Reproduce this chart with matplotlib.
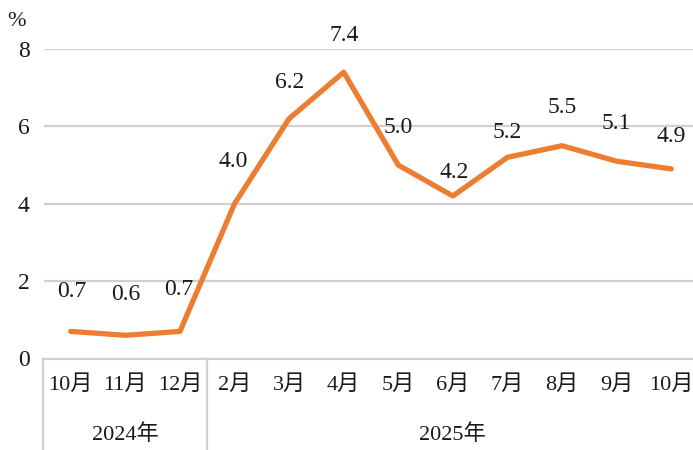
import matplotlib
matplotlib.use("Agg")
import matplotlib.pyplot as plt
import matplotlib.transforms as mtransforms

plt.rcParams['font.family'] = ['Liberation Serif', 'Noto Sans CJK SC']

months = ['10月', '11月', '12月', '2月', '3月', '4月', '5月', '6月', '7月', '8月', '9月', '10月']
values = [0.7, 0.6, 0.7, 4.0, 6.2, 7.4, 5.0, 4.2, 5.2, 5.5, 5.1, 4.9]
years = ['2024年', '2025年']
year_spans = [(0, 2), (3, 11)]
yticks = [0, 2, 4, 6, 8]

# label offsets above each point, in pixels
label_dy = [40, 41, 42, 42, 36, 37, 38, 24, 25, 38, 38, 32]
label_dx = [1, 0, -1, -1, 0, 0, 0, 1, 0, 0, 0, 0]

orange = '#ED7D31'
grey = '#D0D0D0'
txt = '#1a1a1a'
fs = 17

fig = plt.figure(figsize=(6.93, 4.5), dpi=100)
ax = fig.add_axes([43.5/693, 91.5/450, 655/693, 309.5/450])

x = list(range(len(values)))
ax.plot(x, values, color=orange, lw=3.8, solid_capstyle='round', solid_joinstyle='round', zorder=3)

ax.set_xlim(-0.5, len(values) - 0.5)
ax.set_ylim(0, 8)
ax.set_yticks(yticks)
ax.set_yticklabels([str(v) for v in yticks], fontsize=fs, color=txt)
ax.set_xticks([])
ax.tick_params(axis='y', length=0, pad=10)
for s in ['top', 'right', 'left']:
    ax.spines[s].set_visible(False)
ax.spines['bottom'].set_color(grey)
ax.spines['bottom'].set_linewidth(1.6)
ax.grid(axis='y', color=grey, lw=1.6)
ax.set_axisbelow(True)

for i, v in enumerate(values):
    ax.annotate(f'{v:.1f}', (i, v), xytext=(label_dx[i]*0.72, label_dy[i]*0.72),
                textcoords='offset points', ha='center', va='center',
                fontsize=fs, color=txt, annotation_clip=False)

trans = mtransforms.blended_transform_factory(ax.transData, ax.transAxes)
for i, m in enumerate(months):
    ax.annotate(m, (i, 0), xycoords=trans, xytext=(0, -26.5*0.72),
                textcoords='offset points', ha='center', va='center',
                fontsize=fs - 1, color=txt, annotation_clip=False)

for (a, b), yr in zip(year_spans, years):
    ax.annotate(yr, ((a + b) / 2, 0), xycoords=trans, xytext=(0, -76*0.72),
                textcoords='offset points', ha='center', va='center',
                fontsize=fs - 1, color=txt, annotation_clip=False)

for xs in [-0.5, 2.5, 11.5]:
    ax.plot([xs, xs], [0, -0.31], transform=trans, color=grey, lw=1.6, clip_on=False)

fig.text(17/693, 1 - 22/450, '%', ha='center', va='center', fontsize=fs - 1, color=txt)

fig.savefig('out.png', dpi=100)
